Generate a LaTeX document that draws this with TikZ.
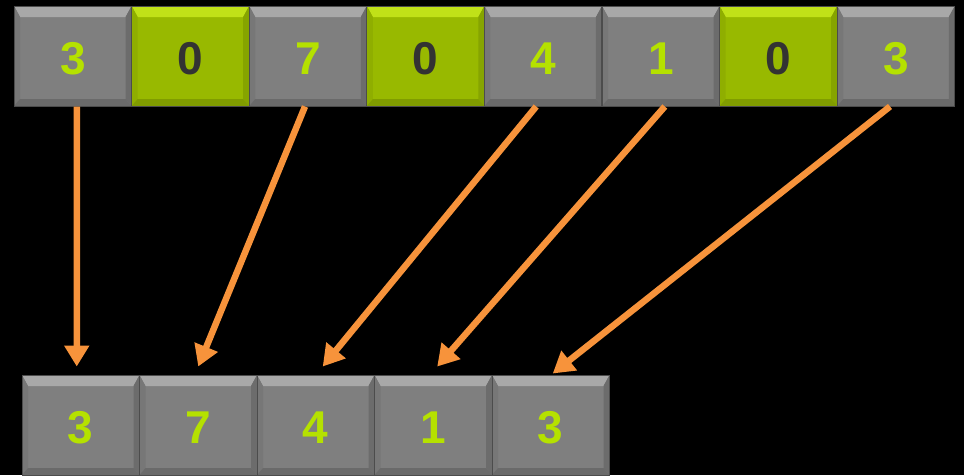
\documentclass[tikz,border=0pt]{standalone}
\usepackage{fontspec}
\setmainfont{Liberation Sans}
\usetikzlibrary{arrows.meta}
\definecolor{graymid}{HTML}{7F7F7F}
\definecolor{graytop}{HTML}{A8A8A8}
\definecolor{grayleft}{HTML}{777777}
\definecolor{grayright}{HTML}{6C6C6C}
\definecolor{graybot}{HTML}{6A6A6A}
\definecolor{greenmid}{HTML}{98B900}
\definecolor{greentop}{HTML}{C0E118}
\definecolor{greenleft}{HTML}{8FAE00}
\definecolor{greenright}{HTML}{86A400}
\definecolor{greenbot}{HTML}{809C00}
\definecolor{limetext}{HTML}{B5E100}
\definecolor{darktext}{HTML}{333333}
\definecolor{arrorange}{HTML}{F7933B}
\tikzset{
    bevel/.style n args={4}{path picture={
        \fill[#1] (path picture bounding box.north west) -- (path picture bounding box.north east)
            -- ([shift={(-6pt,-11pt)}]path picture bounding box.north east)
            -- ([shift={(6pt,-11pt)}]path picture bounding box.north west) -- cycle;
        \fill[#2] (path picture bounding box.north west) -- (path picture bounding box.south west)
            -- ([shift={(6pt,7pt)}]path picture bounding box.south west)
            -- ([shift={(6pt,-11pt)}]path picture bounding box.north west) -- cycle;
        \fill[#3] (path picture bounding box.north east) -- (path picture bounding box.south east)
            -- ([shift={(-6pt,7pt)}]path picture bounding box.south east)
            -- ([shift={(-6pt,-11pt)}]path picture bounding box.north east) -- cycle;
        \fill[#4] (path picture bounding box.south west) -- (path picture bounding box.south east)
            -- ([shift={(-6pt,7pt)}]path picture bounding box.south east)
            -- ([shift={(6pt,7pt)}]path picture bounding box.south west) -- cycle;
    }}
}
\begin{document}
\begin{tikzpicture}[
    x=1pt, y=-1pt,
    cell/.style={rectangle, draw=black!70, line width=1pt, minimum width=117.5pt, minimum height=100pt,
        inner sep=0pt, text height=37pt, text depth=0pt, font=\fontsize{46}{46}\selectfont\bfseries},
    graycell/.style={cell, fill=graymid, text=limetext, bevel={graytop}{grayleft}{grayright}{graybot}},
    greencell/.style={cell, fill=greenmid, text=darktext, bevel={greentop}{greenleft}{greenright}{greenbot}},
    arr/.style={-{Triangle[width=24pt,length=21pt]}, line width=6.5pt, arrorange}
]
    \useasboundingbox[fill=black] (0,0) rectangle (964,475);
    \node[graycell] (t1) at (72.8,56) {3};
    \node[greencell] (t2) at (190.4,56) {0};
    \node[graycell] (t3) at (308,56) {7};
    \node[greencell] (t4) at (425.6,56) {0};
    \node[graycell] (t5) at (543.2,56) {4};
    \node[graycell] (t6) at (660.8,56) {1};
    \node[greencell] (t7) at (778.4,56) {0};
    \node[graycell] (t8) at (896,56) {3};
    \node[graycell] (b1) at (80.75,425) {3};
    \node[graycell] (b2) at (198.25,425) {7};
    \node[graycell] (b3) at (315.75,425) {4};
    \node[graycell] (b4) at (433.25,425) {1};
    \node[graycell] (b5) at (550.75,425) {3};
    \draw[arr] ([xshift=4pt]t1.south) -- ([shift={(-4pt,8pt)}]b1.north);
    \draw[arr] ([xshift=-3pt]t3.south) -- ([yshift=8pt]b2.north);
    \draw[arr] ([xshift=-7pt]t5.south) -- ([shift={(7pt,8pt)}]b3.north);
    \draw[arr] ([xshift=4pt]t6.south) -- ([shift={(4pt,8pt)}]b4.north);
    \draw[arr] ([xshift=-6pt]t8.south) -- ([shift={(2pt,1pt)}]b5.north);
\end{tikzpicture}
\end{document}
